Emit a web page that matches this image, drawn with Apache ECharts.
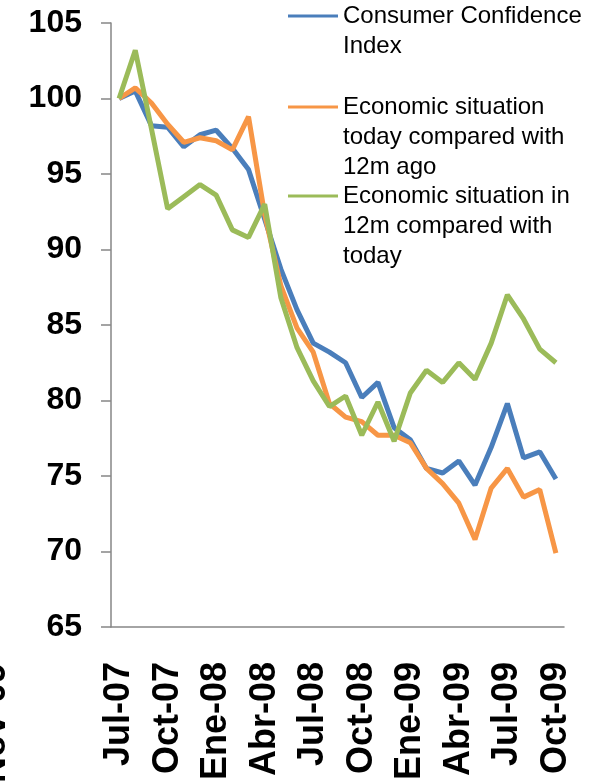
<!DOCTYPE html>
<html>
<head>
<meta charset="utf-8">
<script src="https://cdn.jsdelivr.net/npm/echarts@6/dist/echarts.min.js"></script>
<style>
  html, body { margin: 0; padding: 0; background: #fff; }
  #chart { width: 608px; height: 781px; }
</style>
</head>
<body>
<div id="chart"></div>
<script>
// meses (etiquetas del eje x)
var months = ['Jul-07', 'Ago-07', 'Sep-07', 'Oct-07', 'Nov-07', 'Dic-07',
  'Ene-08', 'Feb-08', 'Mar-08', 'Abr-08', 'May-08', 'Jun-08',
  'Jul-08', 'Ago-08', 'Sep-08', 'Oct-08', 'Nov-08', 'Dic-08',
  'Ene-09', 'Feb-09', 'Mar-09', 'Abr-09', 'May-09', 'Jun-09',
  'Jul-09', 'Ago-09', 'Sep-09', 'Oct-09'];

var confidence = [100.0, 100.5, 98.2, 98.1, 96.8, 97.6, 97.9, 96.7, 95.3, 92.0,
  88.7, 86.0, 83.8, 83.2, 82.5, 80.2, 81.2, 78.2, 77.4, 75.5,
  75.2, 76.0, 74.4, 76.9, 79.8, 76.2, 76.6, 74.8];

var situationToday = [100.0, 100.7, 99.7, 98.3, 97.1, 97.4, 97.2, 96.6, 98.8, 92.3,
  87.6, 84.8, 83.2, 79.8, 78.9, 78.6, 77.7, 77.7, 77.2, 75.5,
  74.5, 73.2, 70.8, 74.2, 75.5, 73.6, 74.1, 69.9];

var situationIn12m = [100.0, 103.2, 98.0, 92.7, 93.5, 94.3, 93.6, 91.3, 90.8, 93.0,
  86.8, 83.5, 81.3, 79.6, 80.3, 77.7, 79.9, 77.3, 80.5, 82.0,
  81.2, 82.5, 81.4, 83.8, 87.0, 85.4, 83.4, 82.5];

var names = ['Consumer Confidence\nIndex',
  'Economic situation\ntoday compared with\n12m ago',
  'Economic situation in\n12m compared with\ntoday'];
var colors = ['#4A7EBB', '#F79646', '#9BBB59'];

var font = "'Liberation Sans', Arial, sans-serif";
var lh = 30;

// una leyenda por serie; líneas vacías delante para que el icono quede en la primera línea
function legendFor(idx, iconY) {
  var n = names[idx].split('\n').length;
  var pad = new Array(n).join('\n');
  return {
    data: [names[idx]],
    formatter: function (name) { return pad + name; },
    left: 288,
    top: iconY - (2 * n - 1) * lh / 2,
    padding: 0,
    itemWidth: 50,
    itemHeight: 14,
    itemGap: 0,
    selectedMode: false,
    icon: 'path://M0,5.5L50,5.5L50,8.5L0,8.5Z',
    textStyle: { fontFamily: font, fontSize: 24, lineHeight: lh, color: '#000' }
  };
}

var chart = echarts.init(document.getElementById('chart'));
chart.setOption({
  animation: false,
  color: colors,
  legend: [legendFor(0, 16), legendFor(1, 107), legendFor(2, 196)],
  grid: { left: 111, right: 44, top: 23, bottom: 154, containLabel: false, outerBoundsMode: 'none' },
  xAxis: {
    type: 'category',
    boundaryGap: true,
    data: months,
    axisLine: { lineStyle: { color: '#868686', width: 1.5 } },
    axisTick: { interval: 2, length: 9, lineStyle: { color: '#868686', width: 1.5 } },
    axisLabel: {
      interval: 2, rotate: 90, margin: 35,
      fontFamily: font, fontSize: 36, fontWeight: 'bold', color: '#000'
    },
    splitLine: { show: false }
  },
  yAxis: {
    type: 'value',
    min: 65, max: 105, interval: 5,
    axisLine: { show: true, lineStyle: { color: '#868686', width: 1.5 } },
    axisTick: { show: true, length: 10, lineStyle: { color: '#868686', width: 1.5 } },
    axisLabel: {
      margin: 29,
      fontFamily: font, fontSize: 32, fontWeight: 'bold', color: '#000'
    },
    splitLine: { show: false }
  },
  graphic: [{
    type: 'text',
    x: -5, y: 663,
    rotation: Math.PI / 2,
    style: {
      text: 'Nov-09', align: 'right', verticalAlign: 'middle',
      font: 'bold 36px ' + font, fill: '#000'
    }
  }],
  series: [
    { name: names[0], type: 'line', data: confidence, showSymbol: false, lineStyle: { width: 5 } },
    { name: names[1], type: 'line', data: situationToday, showSymbol: false, lineStyle: { width: 5 } },
    { name: names[2], type: 'line', data: situationIn12m, showSymbol: false, lineStyle: { width: 5 } }
  ]
});
</script>
</body>
</html>
